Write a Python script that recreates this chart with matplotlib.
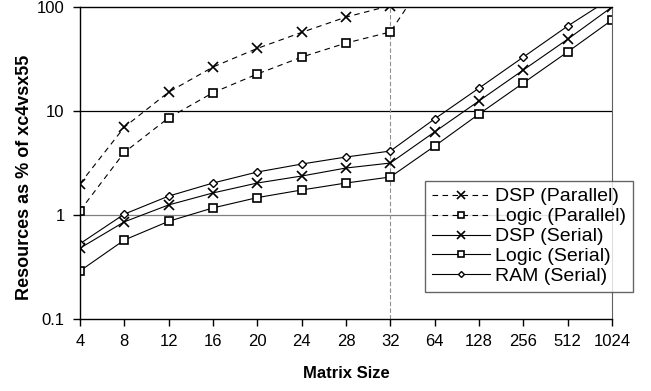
import matplotlib.pyplot as plt
import numpy as np

plt.rcParams['font.family'] = ['Liberation Sans', 'DejaVu Sans']

sizes = ['4', '8', '12', '16', '20', '24', '28', '32', '64', '128', '256', '512', '1024']

dsp_par = [2.0, 7.0, 15.2, 26.5, 40, 57, 80, 103, 400]
logic_par = [1.1, 4.0, 8.6, 15.0, 22.7, 33, 45, 57.5, 250]
dsp_ser = [0.48, 0.86, 1.25, 1.63, 2.03, 2.37, 2.83, 3.16, 6.3, 12.5, 24.8, 49, 100]
logic_ser = [0.29, 0.575, 0.87, 1.17, 1.47, 1.74, 2.03, 2.32, 4.6, 9.35, 18.6, 37, 75]
ram_ser = [0.53, 1.02, 1.52, 2.03, 2.59, 3.09, 3.61, 4.12, 8.4, 16.6, 33, 65.6, 123]

x = np.arange(len(sizes))

fig = plt.figure(figsize=(6.51, 3.91), dpi=100)
ax = fig.add_axes([80 / 651, 1 - 319 / 391, 532 / 651, 312 / 391])

ax.set_yscale('log')
ax.set_ylim(0.1, 100)
ax.set_xlim(0, len(sizes) - 1)

# gridlines and reference lines
ax.axhline(1, color='#808080', lw=0.9, zorder=1)
ax.axhline(10, color='black', lw=0.9, zorder=1)
ax.axvline(7, color='#909090', lw=0.8, ls=(0, (4, 2)), zorder=1)

ms_kw = dict(markerfacecolor='white', markeredgecolor='black', color='black', lw=0.8)
ax.plot(x[:len(dsp_par)], dsp_par, ls=(0, (5, 4)), marker='x', ms=7, mew=1.2,
        label='DSP (Parallel)', **ms_kw)
ax.plot(x[:len(logic_par)], logic_par, ls=(0, (5, 4)), marker='s', ms=6, mew=1.2,
        label='Logic (Parallel)', **ms_kw)
ax.plot(x, dsp_ser, ls='-', marker='x', ms=7, mew=1.2, label='DSP (Serial)', **ms_kw)
ax.plot(x, logic_ser, ls='-', marker='s', ms=6, mew=1.2, label='Logic (Serial)', **ms_kw)
ax.plot(x, ram_ser, ls='-', marker='D', ms=4, mew=1.0, label='RAM (Serial)', **ms_kw)

for s in ['left', 'bottom', 'top']:
    ax.spines[s].set_color('black')
    ax.spines[s].set_linewidth(1.0)
ax.spines['right'].set_color('#606060')

ax.set_xticks(x)
ax.set_xticklabels(sizes)
ax.set_yticks([0.1, 1, 10, 100])
ax.set_yticklabels(['0.1', '1', '10', '100'])
ax.yaxis.set_minor_locator(plt.NullLocator())
ax.tick_params(axis='both', direction='out', length=5, width=1, labelsize=12, pad=6)

ax.set_xlabel('Matrix Size', fontsize=12, fontweight='bold', labelpad=12)
ax.set_ylabel('Resources as % of xc4vsx55', fontsize=13, fontweight='bold')
ax.yaxis.set_label_coords(-0.088, 0.455)

leg = ax.legend(loc='lower right', bbox_to_anchor=(633 / 651, 1 - 292 / 391),
                bbox_transform=fig.transFigure, fontsize=14, frameon=True, fancybox=False,
                shadow=False, edgecolor='#404040', handlelength=3.0, handletextpad=0.25,
                labelspacing=0.12, borderpad=0.35, borderaxespad=0, markerscale=0.75)
leg.get_frame().set_linewidth(1.0)
leg.set_zorder(5)

fig.savefig('out.png', dpi=100)
